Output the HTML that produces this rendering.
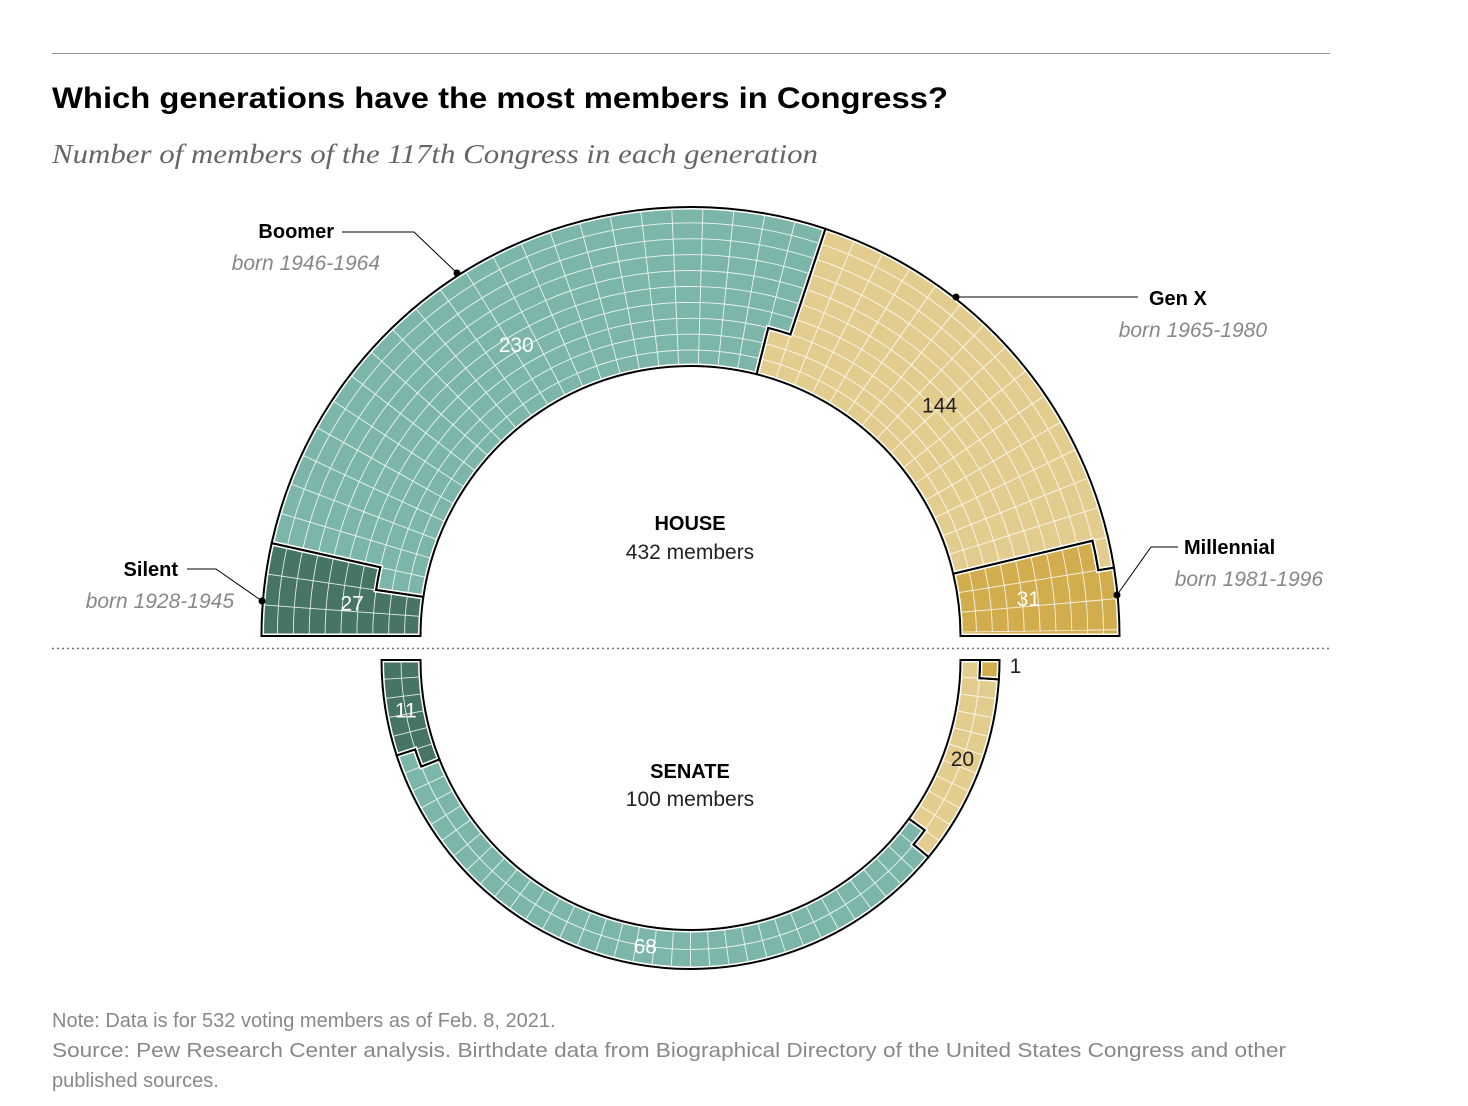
<!DOCTYPE html>
<html><head><meta charset="utf-8"><style>
html,body{margin:0;padding:0;background:#fff;}
svg{display:block;font-family:"Liberation Sans",sans-serif;}
</style></head><body>
<svg id="chart" width="1468" height="1106" viewBox="0 0 1468 1106" xmlns="http://www.w3.org/2000/svg">
<line x1="52" y1="53.5" x2="1330" y2="53.5" stroke="#999" stroke-width="1"/>
<text x="52" y="108" font-size="30" font-weight="bold" fill="#000" textLength="896" lengthAdjust="spacingAndGlyphs">Which generations have the most members in Congress?</text>
<text x="52" y="163" font-family="Liberation Serif, serif" font-style="italic" font-size="27" fill="#666" textLength="766" lengthAdjust="spacingAndGlyphs">Number of members of the 117th Congress in each generation</text>
<line x1="52" y1="648.5" x2="1330" y2="648.5" stroke="#777" stroke-width="1.5" stroke-dasharray="2,3"/>
<g id="house"></g>
<g id="senate"></g>
<g id="labels"></g>
<text x="690" y="530" text-anchor="middle" font-size="20" font-weight="bold">HOUSE</text>
<text x="690" y="559" text-anchor="middle" font-size="21" fill="#222">432 members</text>
<text x="690" y="778" text-anchor="middle" font-size="20" font-weight="bold">SENATE</text>
<text x="690" y="806" text-anchor="middle" font-size="21" fill="#222">100 members</text>
<g>
<text x="334" y="238" text-anchor="end" font-size="20" font-weight="bold">Boomer</text>
<text x="380" y="270" text-anchor="end" font-size="21" font-style="italic" fill="#888">born 1946-1964</text>
<polyline points="342,232 414,232 457,273" fill="none" stroke="#000" stroke-width="1"/>
<circle cx="457" cy="273" r="3.5"/>
</g>
<g>
<text x="1149" y="305" font-size="20" font-weight="bold">Gen X</text>
<text x="1267" y="337" text-anchor="end" font-size="21" font-style="italic" fill="#888">born 1965-1980</text>
<polyline points="956,297 1138,297" fill="none" stroke="#000" stroke-width="1"/>
<circle cx="956" cy="297" r="3.5"/>
</g>
<g>
<text x="1184" y="554" font-size="20" font-weight="bold">Millennial</text>
<text x="1323" y="586" text-anchor="end" font-size="21" font-style="italic" fill="#888">born 1981-1996</text>
<polyline points="1178,547 1151,547 1117,595" fill="none" stroke="#000" stroke-width="1"/>
<circle cx="1117" cy="595" r="3.5"/>
</g>
<g>
<text x="178" y="576" text-anchor="end" font-size="20" font-weight="bold">Silent</text>
<text x="234" y="608" text-anchor="end" font-size="21" font-style="italic" fill="#888">born 1928-1945</text>
<polyline points="187,569 216,569 262,601" fill="none" stroke="#000" stroke-width="1"/>
<circle cx="262" cy="601" r="3.5"/>
</g>
<text x="52" y="1027" font-size="20" fill="#888">Note: Data is for 532 voting members as of Feb. 8, 2021.</text>
<text x="52" y="1057" font-size="20" fill="#888" textLength="1234" lengthAdjust="spacingAndGlyphs">Source: Pew Research Center analysis. Birthdate data from Biographical Directory of the United States Congress and other</text>
<text x="52" y="1087" font-size="20" fill="#888">published sources.</text>
</svg>
<script>
const generations = ["Silent", "Boomer", "Gen X", "Millennial"];
const houseCounts = [27, 230, 144, 31];
const senateCounts = [11, 68, 20, 1];
const genColors = ["#467563", "#7cb6aa", "#e3cd8e", "#d1ad4e"];
const labelColors = ["#fff", "#fff", "#222", "#fff"];

const NS = "http://www.w3.org/2000/svg";
function mk(tag, attrs, parent) {
  const e = document.createElementNS(NS, tag);
  for (const k in attrs) e.setAttribute(k, attrs[k]);
  parent.appendChild(e);
  return e;
}
function drawChamber(g, counts, cfg, prefix) {
  const {cx, cy, r0, r1, R, dir, outerFirst, labelR} = cfg;
  const total = counts.reduce((a, b) => a + b, 0);
  const S = total / R;
  const dr = (r1 - r0) / R;
  const rad = k => outerFirst ? r1 - k * dr : r0 + k * dr;
  const ang = s => Math.PI - Math.min(s, S) * Math.PI / S;
  const pt = (r, a) => [cx + r * Math.cos(a), cy + dir * r * Math.sin(a)];
  const grp = [];
  counts.forEach((n, i) => { for (let j = 0; j < n; j++) grp.push(i); });
  const sweepA = dir < 0 ? 1 : 0;
  const bgLayer = mk("g", {}, g);
  const cellLayer = mk("g", {}, g);
  for (let idx = 0; idx < total; idx++) {
    const s = Math.floor(idx / R), k = idx % R;
    const ra = rad(k), rb = rad(k + 1);
    const a1 = ang(s), a2 = ang(s + 1);
    const p1 = pt(ra, a1), p2 = pt(ra, a2), p3 = pt(rb, a2), p4 = pt(rb, a1);
    const d = `M${p1}A${ra},${ra} 0 0 ${sweepA} ${p2}L${p3}A${rb},${rb} 0 0 ${1 - sweepA} ${p4}Z`;
    const cell = mk("path", {d: d, fill: genColors[grp[idx]], stroke: "rgba(255,255,255,0.7)", "stroke-width": 0.9}, cellLayer);
    
    
  }
  let start = 0;
  const outlines = [];
  counts.forEach((n, i) => {
    const a = start, b = start + n; start = b;
    const sa = Math.floor(a / R), ka = a % R, sb = Math.floor(b / R);
    const kb = b >= total ? 0 : b % R;
    const rTop = rad(0), rBot = rad(R);
    let d = `M${pt(rBot, ang(sa))}`;
    if (ka > 0) {
      d += `L${pt(rad(ka), ang(sa))}A${rad(ka)},${rad(ka)} 0 0 ${sweepA} ${pt(rad(ka), ang(sa + 1))}L${pt(rTop, ang(sa + 1))}`;
    } else d += `L${pt(rTop, ang(sa))}`;
    const endTop = b >= total ? ang(S) : (kb > 0 ? ang(sb + 1) : ang(sb));
    const endBot = b >= total ? ang(S) : ang(sb);
    d += `A${rTop},${rTop} 0 0 ${sweepA} ${pt(rTop, endTop)}`;
    if (kb > 0) {
      d += `L${pt(rad(kb), ang(sb + 1))}A${rad(kb)},${rad(kb)} 0 0 ${1 - sweepA} ${pt(rad(kb), ang(sb))}L${pt(rBot, ang(sb))}`;
    } else d += `L${pt(rBot, endBot)}`;
    d += `A${rBot},${rBot} 0 0 ${1 - sweepA} ${pt(rBot, ang(sa))}Z`;
    outlines.push(d);
    mk("path", {d: d, fill: genColors[i], stroke: "none"}, bgLayer);
    const mid = (a + b) / 2;
    const ma = ang(mid / R);
    const inside = n >= 3;
    const lr = inside ? labelR : r1 + 16;
    const lp = pt(lr, ma);
    const t = mk("text", {x: lp[0], y: lp[1] + 8, "text-anchor": "middle", "font-size": 21, fill: inside ? labelColors[i] : "#222"}, document.getElementById("labels"));
    
    
    t.textContent = n;
  });
  outlines.forEach(d => mk("path", {d: d, fill: "none", stroke: "#fff", "stroke-width": 5}, g));
  outlines.forEach((d, i) => {
    const o = mk("path", {d: d, fill: "none", stroke: "#000", "stroke-width": 2}, g);
    
    
  });
}
drawChamber(document.getElementById("house"), houseCounts,
  {cx: 690.5, cy: 636, r0: 270, r1: 429, R: 10, dir: -1, outerFirst: true, labelR: 340}, "house");
drawChamber(document.getElementById("senate"), senateCounts,
  {cx: 690.5, cy: 660, r0: 270, r1: 309, R: 2, dir: 1, outerFirst: false, labelR: 289}, "senate");
</script>
</body></html>
